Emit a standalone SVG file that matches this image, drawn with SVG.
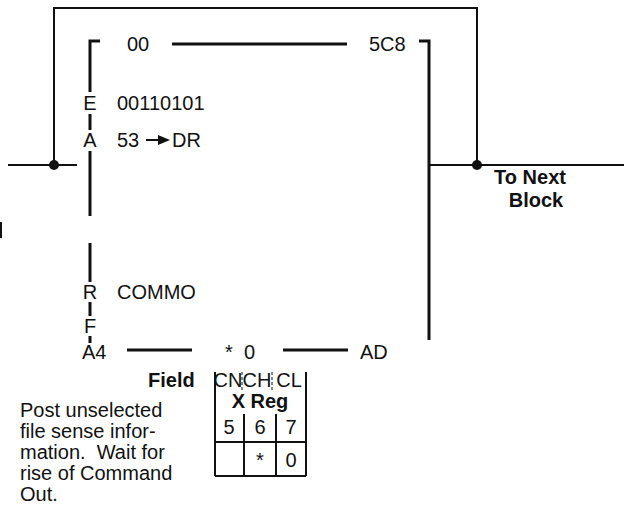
<svg xmlns="http://www.w3.org/2000/svg" width="624" height="514" viewBox="0 0 624 514">
<style>
.t{font-family:"Liberation Sans",Arial,sans-serif;font-size:20px;fill:#111}
.b{font-weight:bold}
.w{stroke:#111;fill:none}
.thin{stroke-width:2}
.thick{stroke-width:3}
.m{text-anchor:middle}
.pre{white-space:pre}
</style>
<rect width="624" height="514" fill="#fff"/>
<g id="connectors">
<path class="w thin" d="M54,165 V8 H477 V165"/>
<path class="w thin" d="M8,165 H77"/>
<path class="w thin" d="M429,165 H624"/>
<circle cx="54" cy="165" r="5" fill="#111"/>
<circle cx="477" cy="165" r="5" fill="#111"/>
<path class="w thin" d="M1,222 V238"/>
</g>
<g id="block">
<path class="w thick" d="M100,41 H90 V92 M90,114 V130 M90,151 V216 M90,243 V282 M90,302 V316 M90,336 V343"/>
<path class="w thick" d="M419,41 H429 V340"/>
<path class="w thick" d="M172,44 H347"/>
<path class="w thick" d="M127,350 H192 M283,350 H348"/>
<text class="t" x="127" y="51">00</text>
<text class="t" x="369" y="51">5C8</text>
<text class="t m" x="90" y="110">E</text>
<text class="t" x="117" y="110">00110101</text>
<text class="t m" x="90" y="147">A</text>
<text class="t" x="117" y="147">53</text>
<path d="M146,140 H160" stroke="#111" stroke-width="2"/>
<path d="M158,135 L170,140 L158,145 Z" fill="#111"/>
<text class="t" x="172" y="147">DR</text>
<text class="t m" x="90" y="299">R</text>
<text class="t" x="117" y="299">COMMO</text>
<text class="t m" x="90" y="333">F</text>
<text class="t" x="82" y="359">A4</text>
<text class="t" x="225" y="359">*</text>
<text class="t" x="244" y="359">0</text>
<text class="t" x="360" y="359">AD</text>
</g>
<g id="next">
<text class="t b m" x="530" y="184">To Next</text>
<text class="t b m" x="536" y="207">Block</text>
</g>
<g id="table">
<text class="t b" x="148" y="387">Field</text>
<path class="w thin" d="M215,372 V476 M306,372 V476 M215,476 H306 M215,442 H306 M244,414 V476 M276,414 V476"/>
<path class="w" stroke-width="1" stroke-dasharray="3,2" d="M242,372 V392 M272,372 V392"/>
<text class="t" x="228" y="387" text-anchor="middle" font-size="17">CN</text>
<text class="t" x="257" y="387" text-anchor="middle" font-size="17">CH</text>
<text class="t" x="289" y="387" text-anchor="middle" font-size="17">CL</text>
<text class="t b m" x="260" y="408">X Reg</text>
<text class="t m" x="229" y="434">5</text>
<text class="t m" x="260" y="434">6</text>
<text class="t m" x="291" y="434">7</text>
<text class="t m" x="260" y="467">*</text>
<text class="t m" x="291" y="467">0</text>
</g>
<g id="note">
<text class="t" x="20" y="417">Post unselected</text>
<text class="t" x="20" y="438">file sense infor-</text>
<text class="t pre" x="20" y="459" xml:space="preserve">mation.  Wait for</text>
<text class="t" x="20" y="480">rise of Command</text>
<text class="t" x="20" y="501">Out.</text>
</g>
</svg>
